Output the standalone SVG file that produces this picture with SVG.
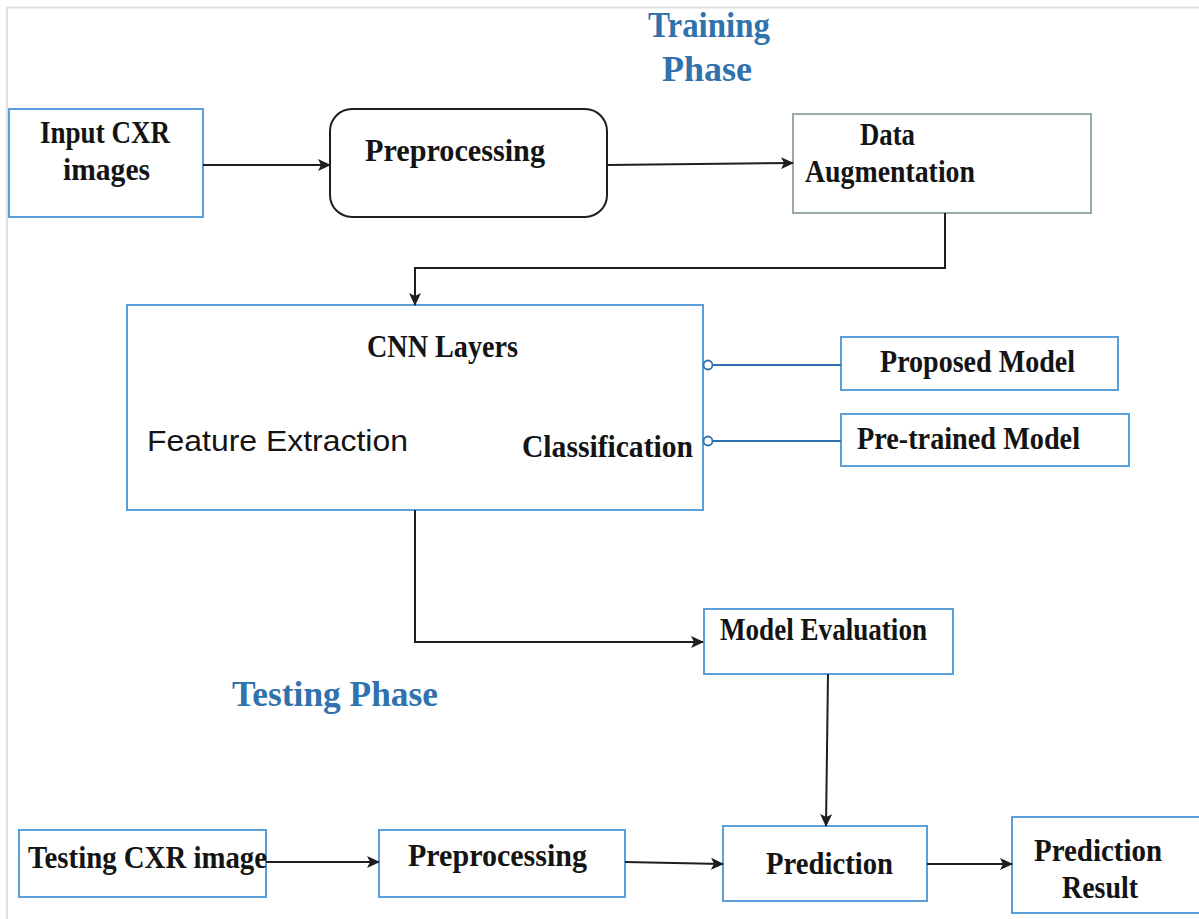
<svg xmlns="http://www.w3.org/2000/svg" width="1199" height="919" viewBox="0 0 1199 919">
<defs>
<style>
.bx{fill:#fff;stroke:#5b9fd9;stroke-width:2}
.t{font-family:"Liberation Serif","Times New Roman",serif;font-weight:bold;font-size:30.5px;fill:#141414}
.h{font-family:"Liberation Serif","Times New Roman",serif;font-weight:bold;font-size:36px;fill:#2f72ad}
.c{fill:none;stroke:#1e1e1e;stroke-width:2}
.b{fill:none;stroke:#2f72ad;stroke-width:2}
</style>
<marker id="ah" viewBox="0 0 13 12" refX="12" refY="6" markerWidth="13" markerHeight="12" markerUnits="userSpaceOnUse" orient="auto">
<path d="M0,0 L13,6 L0,12 L3,6 z" fill="#1e1e1e"/>
</marker>
</defs>
<rect width="1199" height="919" fill="#fff"/>
<path d="M7,919 V7.5 H1199" fill="none" stroke="#e0e0e0" stroke-width="2"/>

<g id="title-training">
<text class="h" x="709" y="37" text-anchor="middle" textLength="122" lengthAdjust="spacingAndGlyphs">Training</text>
<text class="h" x="707" y="81" text-anchor="middle" textLength="90" lengthAdjust="spacingAndGlyphs">Phase</text>
</g>
<g id="title-testing">
<text class="h" x="232" y="706" textLength="206" lengthAdjust="spacingAndGlyphs">Testing Phase</text>
</g>

<g id="input">
<rect class="bx" x="9" y="109" width="194" height="108"/>
<text class="t" x="40" y="143" textLength="130" lengthAdjust="spacingAndGlyphs">Input CXR</text>
<text class="t" x="63" y="180" textLength="87" lengthAdjust="spacingAndGlyphs">images</text>
</g>
<g id="preprocessing">
<rect x="330" y="109" width="277" height="108" rx="22" fill="#fff" stroke="#1e1e1e" stroke-width="2"/>
<text class="t" x="365" y="161" textLength="180" lengthAdjust="spacingAndGlyphs">Preprocessing</text>
</g>
<g id="augmentation">
<rect x="793" y="114" width="298" height="99" fill="#fff" stroke="#9aabab" stroke-width="2"/>
<text class="t" x="860" y="145" textLength="55" lengthAdjust="spacingAndGlyphs">Data</text>
<text class="t" x="805" y="182" textLength="170" lengthAdjust="spacingAndGlyphs">Augmentation</text>
</g>
<g id="cnn">
<rect class="bx" x="127" y="305" width="576" height="205"/>
<text class="t" x="367" y="357" textLength="151" lengthAdjust="spacingAndGlyphs">CNN Layers</text>
<text x="147" y="451" font-family="'Liberation Sans',Arial,sans-serif" font-size="30" fill="#141414" textLength="261" lengthAdjust="spacingAndGlyphs">Feature Extraction</text>
<text class="t" x="522" y="457" textLength="171" lengthAdjust="spacingAndGlyphs">Classification</text>
</g>
<g id="proposed">
<rect class="bx" x="841" y="337" width="277" height="53"/>
<text class="t" x="880" y="372" textLength="195" lengthAdjust="spacingAndGlyphs">Proposed Model</text>
</g>
<g id="pretrained">
<rect class="bx" x="841" y="414" width="288" height="52"/>
<text class="t" x="857" y="449" textLength="223" lengthAdjust="spacingAndGlyphs">Pre-trained Model</text>
</g>
<g id="evaluation">
<rect class="bx" x="704" y="609" width="249" height="65"/>
<text class="t" x="720" y="640" textLength="207" lengthAdjust="spacingAndGlyphs">Model Evaluation</text>
</g>
<g id="testing-input">
<rect class="bx" x="19" y="830" width="247" height="67"/>
<text class="t" x="28" y="868" textLength="239" lengthAdjust="spacingAndGlyphs">Testing CXR image</text>
</g>
<g id="preprocessing2">
<rect class="bx" x="379" y="830" width="246" height="67"/>
<text class="t" x="408" y="866" textLength="179" lengthAdjust="spacingAndGlyphs">Preprocessing</text>
</g>
<g id="prediction">
<rect class="bx" x="723" y="826" width="204" height="75"/>
<text class="t" x="766" y="874" textLength="127" lengthAdjust="spacingAndGlyphs">Prediction</text>
</g>
<g id="result">
<rect class="bx" x="1012" y="817" width="200" height="96"/>
<text class="t" x="1034" y="861" textLength="128" lengthAdjust="spacingAndGlyphs">Prediction</text>
<text class="t" x="1062" y="898" textLength="76" lengthAdjust="spacingAndGlyphs">Result</text>
</g>

<g id="connectors">
<path class="c" d="M203,165 H330" marker-end="url(#ah)"/>
<path class="c" d="M607,165 L793,163" marker-end="url(#ah)"/>
<path class="c" d="M945,213 V268 H415 V305" marker-end="url(#ah)"/>
<path class="c" d="M415,510 V642 H703" marker-end="url(#ah)"/>
<path class="c" d="M828,674 L826,826" marker-end="url(#ah)"/>
<path class="c" d="M266,862 H379" marker-end="url(#ah)"/>
<path class="c" d="M625,862 L723,864" marker-end="url(#ah)"/>
<path class="c" d="M927,864 H1012" marker-end="url(#ah)"/>
<path class="b" d="M712,365 H841"/>
<path class="b" d="M712,441 H841"/>
<circle cx="708" cy="365" r="4.5" fill="#fff" stroke="#2f72ad" stroke-width="1.8"/>
<circle cx="708" cy="441" r="4.5" fill="#fff" stroke="#2f72ad" stroke-width="1.8"/>
</g>
</svg>
